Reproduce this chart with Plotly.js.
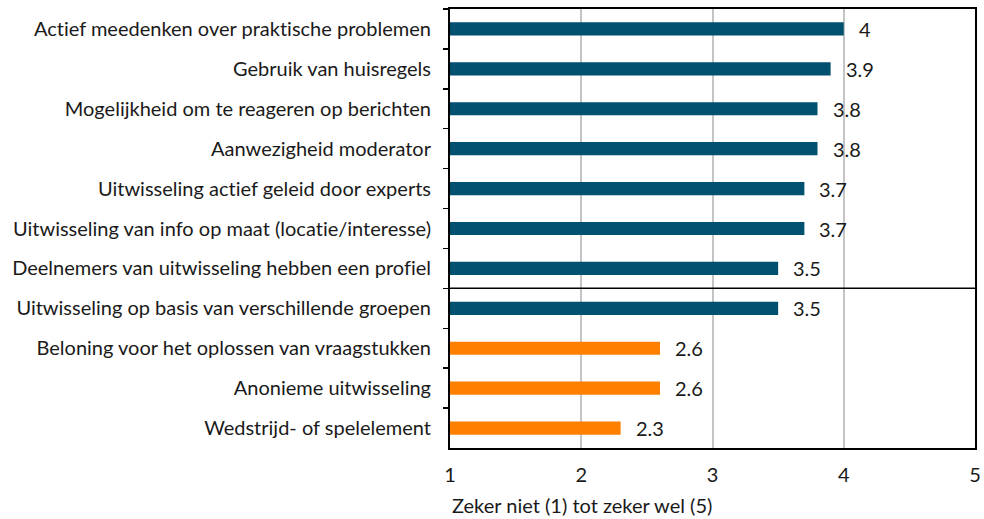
<!DOCTYPE html>
<html>
<head>
<meta charset="utf-8">
<script src="https://cdn.plot.ly/plotly-3.0.1.min.js"></script>
<style>html,body{margin:0;padding:0;background:#fff;}#chart{width:984px;height:519px;}
#chart text{font-variant-ligatures:none;font-feature-settings:"liga" 0;}</style>
</head>
<body>
<div id="chart"></div>
<script>
var categories = [
  "Actief meedenken over praktische problemen",
  "Gebruik van huisregels",
  "Mogelijkheid om te reageren op berichten",
  "Aanwezigheid moderator",
  "Uitwisseling actief geleid door experts",
  "Uitwisseling van info op maat (locatie/interesse)",
  "Deelnemers van uitwisseling hebben een profiel",
  "Uitwisseling op basis van verschillende groepen",
  "Beloning voor het oplossen van vraagstukken",
  "Anonieme uitwisseling",
  "Wedstrijd- of spelelement"
];
var values = [4.0, 3.9, 3.8, 3.8, 3.7, 3.7, 3.5, 3.5, 2.6, 2.6, 2.3];
var groups = ["hoog","hoog","hoog","hoog","hoog","hoog","hoog","hoog","laag","laag","laag"];
var valueLabels = ["4","3.9","3.8","3.8","3.7","3.7","3.5","3.5","2.6","2.6","2.3"];
var xTicks = [1, 2, 3, 4, 5];
var xTitle = "Zeker niet (1) tot zeker wel (5)";

var colorMap = {hoog: "#00506F", laag: "#FF7F00"};
var FONT = "Lato, 'Open Sans', sans-serif";
var TXT = "#1a1a1a";
var FS = 20;

var trace = {
  type: "bar",
  orientation: "h",
  y: categories,
  x: values.map(function(v){ return v - 1; }),
  base: 1,
  width: 0.33,
  marker: {color: groups.map(function(g){ return colorMap[g]; })},
  hoverinfo: "none"
};

var annotations = values.map(function(v, i){
  return {
    xref: "x", yref: "y", x: v, y: categories[i],
    text: valueLabels[i], showarrow: false,
    xanchor: "left", yanchor: "middle", xshift: 13,
    font: {family: FONT, size: FS, color: TXT}
  };
});
annotations.push({
  xref: "paper", yref: "paper", x: 0, y: 0, yshift: -43,
  xanchor: "left", yanchor: "top",
  text: xTitle, showarrow: false,
  font: {family: FONT, size: FS, color: TXT}
});

var layout = {
  width: 984, height: 519,
  margin: {l: 450, r: 9, t: 9, b: 71},
  paper_bgcolor: "#fff", plot_bgcolor: "#fff",
  showlegend: false,
  font: {family: FONT, size: FS, color: TXT},
  xaxis: {
    range: [1, 5],
    tickvals: xTicks,
    ticktext: xTicks.map(String),
    showgrid: true, gridcolor: "#c4c4c4", gridwidth: 2,
    zeroline: false,
    showline: true, linecolor: "#000", linewidth: 2, mirror: true,
    ticks: "", ticklabelstandoff: 8,
    tickfont: {family: FONT, size: FS, color: TXT},
    fixedrange: true
  },
  yaxis: {
    type: "category",
    autorange: "reversed",
    showgrid: false, zeroline: false,
    showline: true, linecolor: "#000", linewidth: 2, mirror: true,
    ticks: "outside", tickson: "boundaries", ticklen: 5, tickcolor: "#000", tickwidth: 1.5,
    ticklabelstandoff: 13,
    tickfont: {family: FONT, size: FS, color: TXT},
    fixedrange: true
  },
  annotations: annotations,
  shapes: [{
    type: "line", xref: "paper", x0: 0, x1: 1, yref: "y", y0: 6.5, y1: 6.5,
    line: {color: "#000", width: 1.5}
  }]
};

Plotly.newPlot("chart", [trace], layout, {staticPlot: true, displayModeBar: false});
</script>
</body>
</html>
